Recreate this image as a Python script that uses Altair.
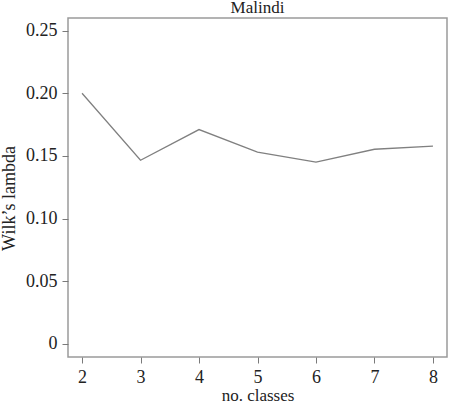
import altair as alt
import pandas as pd

# Wilk's lambda against the number of classes, Malindi site
classes = [2, 3, 4, 5, 6, 7, 8]
wilks_lambda = [0.200, 0.1465, 0.171, 0.153, 0.145, 0.1553, 0.1578]

df = pd.DataFrame({"classes": classes, "lambda": wilks_lambda})

serif = "Liberation Serif"
grey = "#7a7a7a"
fs = 18

line = alt.Chart(df).mark_line(color="#808080", strokeWidth=1.3).encode(
    x=alt.X(
        "classes:Q",
        scale=alt.Scale(domain=[1.76, 8.24], nice=False, zero=False),
        axis=alt.Axis(
            values=classes,
            format="d",
            title="no. classes",
            domain=False,
            grid=False,
            tickSize=6,
            tickColor=grey,
            labelPadding=5,
            titlePadding=1,
            titleFontSize=17,
        ),
    ),
    y=alt.Y(
        "lambda:Q",
        scale=alt.Scale(domain=[-0.0104, 0.26], nice=False, zero=False),
        axis=alt.Axis(
            values=[0, 0.05, 0.10, 0.15, 0.20, 0.25],
            labelExpr="datum.value == 0 ? '0' : format(datum.value, '.2f')",
            title="Wilk\u2019s lambda",
            domain=False,
            grid=False,
            tickSize=6,
            tickColor=grey,
            labelPadding=5,
            titlePadding=7,
            titleY=180,
        ),
    ),
)

chart = (
    line.properties(
        width=379,
        height=339,
        title=alt.TitleParams(
            "Malindi",
            font=serif,
            fontSize=17,
            fontWeight="normal",
            color="#222222",
            anchor="middle",
            baseline="bottom",
            offset=0,
            dy=16,
        ),
        autosize=alt.AutoSizeParams(type="none"),
        padding={"left": 68, "top": 18, "right": 8, "bottom": 49},
    )
    .configure_view(stroke="#9a9a9a", strokeWidth=1.5)
    .configure_axis(
        labelFont=serif,
        titleFont=serif,
        labelFontSize=fs,
        titleFontSize=fs,
        titleFontWeight="normal",
        labelColor="#222222",
        titleColor="#222222",
    )
)

chart.save("out.html", embed_options={"renderer": "svg", "actions": False})
